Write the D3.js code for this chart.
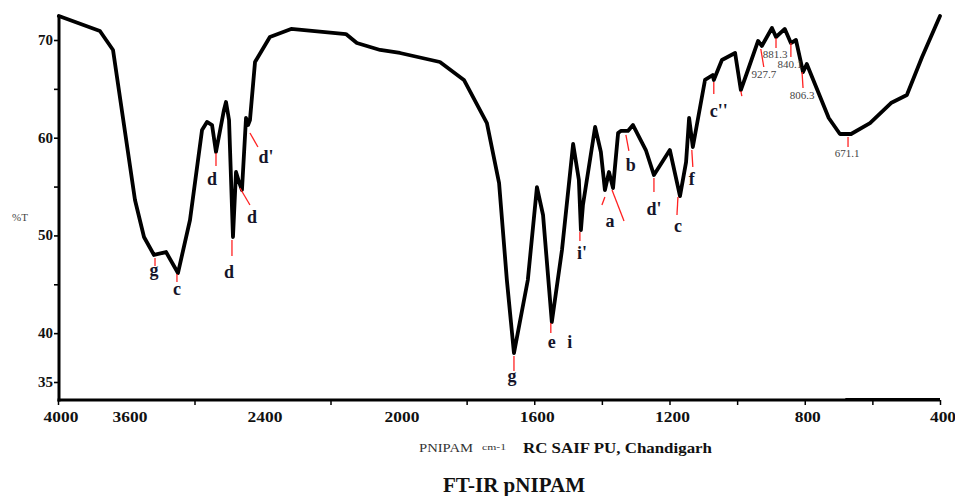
<!DOCTYPE html>
<html>
<head>
<meta charset="utf-8">
<script src="https://cdn.jsdelivr.net/npm/d3@7"></script>
<style>
  html, body { margin: 0; padding: 0; background: #fff; }
  svg { display: block; }
  text { font-family: "Liberation Serif", "DejaVu Serif", serif; }
</style>
</head>
<body>
<svg id="chart" width="955" height="496"></svg>
<script>
// ---- data ----
const wavenumber = [
  3995, 3757, 3681, 3529, 3449, 3360, 3253, 3147, 3040, 2933,
  2889, 2844, 2809, 2738, 2720, 2693, 2658, 2631, 2604, 2578,
  2542, 2524, 2507, 2462, 2377, 2315, 2155, 2123, 2055, 1997,
  1879, 1808, 1740, 1704, 1681, 1660, 1619, 1592, 1574, 1548,
  1518, 1485, 1468, 1462, 1456, 1420, 1403, 1391, 1379, 1367,
  1352, 1344, 1323, 1308, 1270, 1246, 1199, 1169, 1151, 1142,
  1131, 1095, 1072, 1069, 1045, 1006, 989, 968, 938, 927,
  897, 885, 859, 841, 826, 805, 794, 729, 696, 663,
  607, 545, 498, 453, 400
];
const transmittance = [
  72.46, 70.92, 68.98, 53.62, 49.84, 48.0, 48.3, 46.15, 51.58, 60.79,
  61.61, 61.3, 58.54, 62.84, 63.65, 61.81, 49.84, 56.49, 55.47, 54.65,
  62.02, 61.3, 61.81, 67.75, 70.31, 71.13, 70.61, 69.69, 68.98, 68.67,
  67.75, 65.91, 61.5, 55.36, 45.44, 37.96, 45.44, 54.95, 52.09, 41.14,
  48.51, 59.36, 55.67, 50.55, 53.11, 61.1, 58.54, 54.65, 56.49, 54.85,
  60.48, 60.69, 60.69, 61.3, 58.74, 56.18, 58.74, 54.03, 57.51, 62.02,
  59.05, 65.91, 66.42, 65.91, 67.95, 68.67, 64.88, 66.93, 69.9, 69.39,
  71.23, 70.31, 71.13, 69.69, 70.0, 66.72, 67.54, 62.02, 60.38, 60.38,
  61.5, 63.55, 64.37, 68.26, 72.46
];

// axis tick labels
const xTickLabels = [4000, 3600, 2400, 2000, 1600, 1200, 800, 400];
const xTickMarks = [4000, 3000, 2200, 1800, 1600, 1400, 1200, 1000, 800, 600, 400];
const yTickLabels = [70, 60, 50, 40, 35];
const yTickMarks = [35, 40, 45, 50, 55, 60, 65, 70];

// peak annotations: label, wavenumber, %T at the marker start
const annoText = ["g", "c", "d", "d", "d", "d'", "g", "e", "i", "i'", "a", "", "b", "d'", "c", "f", "c''", "",
  "927.7", "881.3", "840.1", "806.3", "671.1"];
const annoWn = [3351, 3156, 2809, 2667, 2596, 2507, 1660, 1551, 1551, 1465, 1391, 1370, 1329, 1246, 1175, 1134, 1069, 989,
  930, 885, 841, 808, 672];
const annoT = [47.69, 46.05, 58.43, 49.53, 54.85, 60.48, 37.66, 41.03, 41.03, 50.35, 53.93, 54.65, 60.28, 55.88, 53.93, 58.74, 65.70, 64.78,
  69.08, 70.2, 69.69, 66.72, 60.07];

// ---- layout (pixel offsets / styling only) ----
// red marker line end offset [dx, dy] (null = no line)
const annoLine = [[0,8],[0,8],[0,13],[0,16],[10,17],[8,14],[0,15],[0,10],null,[0,9],[-3,8],[12,31],[3,16],[0,14],[-1,18],[1,17],[0,12],[1,5],
  [3,18],[0,10],[0,14],[1,16],[0,10]];
// label baseline offset [dx, dy]
const annoLabel = [[-1,18],[0,21],[-4,32],[-3,38],[12,35],[16,30],[-2,26],[1,25],[19,25],[2,27],[5,30],[0,0],[5,36],[0,37],[0,35],[0,35],[5,35],[0,0],
  [3,29],[-1,20],[-1,25],[0,27],[-1,20]];

const svg = d3.select("#chart");
svg.append("rect").attr("width", 955).attr("height", 496).attr("fill", "#fff");

const x = d3.scaleLinear().domain([4000, 3600, 2400, 2000, 400]).range([58, 127, 262, 399, 940]);
const y = d3.scaleLinear().domain([35, 70]).range([382, 40]);

// tick marks via d3 axes
const xAxis = d3.axisBottom(x).tickValues(xTickMarks).tickSize(5).tickFormat("");
const gx = svg.append("g").attr("transform", "translate(0,400)").call(xAxis);
gx.select(".domain").remove();
gx.selectAll(".tick line").attr("stroke", "#000").attr("stroke-width", 1.5);

const yAxis = d3.axisLeft(y).tickValues(yTickMarks).tickSize(5).tickFormat("");
const gy = svg.append("g").attr("transform", "translate(59,0)").call(yAxis);
gy.select(".domain").remove();
gy.selectAll(".tick line").attr("stroke", "#000").attr("stroke-width", 1.6);

// axis lines
svg.append("line").attr("x1", 59).attr("x2", 59).attr("y1", 15).attr("y2", 401.5)
  .attr("stroke", "#000").attr("stroke-width", 3);
svg.append("line").attr("x1", 57.5).attr("x2", x(400)).attr("y1", 400).attr("y2", 400)
  .attr("stroke", "#000").attr("stroke-width", 3);
svg.append("line").attr("x1", x(680)).attr("x2", x(400)).attr("y1", 398.8).attr("y2", 398.8)
  .attr("stroke", "#000").attr("stroke-width", 1.5);

// x tick labels
svg.append("g").selectAll("text").data(xTickLabels).join("text")
  .attr("x", d => x(d) + 3)
  .attr("y", 422)
  .attr("text-anchor", "middle")
  .attr("font-size", 14).attr("font-weight", "bold").attr("fill", "#111")
  .attr("textLength", d => String(d).length * 8.7)
  .attr("lengthAdjust", "spacingAndGlyphs")
  .text(d => d);

// y tick labels
svg.append("g").selectAll("text").data(yTickLabels).join("text")
  .attr("x", 53)
  .attr("y", d => y(d) + 5)
  .attr("text-anchor", "end")
  .attr("font-size", 15).attr("font-weight", "bold").attr("fill", "#111")
  .text(d => d);

svg.append("text").attr("x", 20).attr("y", 221).attr("text-anchor", "middle")
  .attr("font-size", 11).attr("fill", "#444").text("%T");

// spectrum line
const pts = wavenumber.map((w, i) => [w, transmittance[i]]);
const line = d3.line().x(d => x(d[0])).y(d => y(d[1])).curve(d3.curveLinear);
svg.append("path").datum(pts).attr("d", line)
  .attr("fill", "none").attr("stroke", "#000").attr("stroke-width", 3.8)
  .attr("stroke-linejoin", "round").attr("stroke-linecap", "round");

// annotations
const ga = svg.append("g");
annoText.forEach((t, i) => {
  const ax = x(annoWn[i]), ay = y(annoT[i]);
  const ln = annoLine[i];
  if (ln) {
    ga.append("line").attr("x1", ax).attr("y1", ay).attr("x2", ax + ln[0]).attr("y2", ay + ln[1])
      .attr("stroke", "#f22").attr("stroke-width", 1.3);
  }
  if (t) {
    const isNum = /\d/.test(t);
    ga.append("text")
      .attr("x", ax + annoLabel[i][0]).attr("y", ay + annoLabel[i][1])
      .attr("text-anchor", "middle")
      .attr("font-size", isNum ? 11 : 18)
      .attr("font-weight", isNum ? "normal" : "bold")
      .attr("fill", isNum ? "#444" : "#15152a")
      .text(t);
  }
});

// footer texts
svg.append("text").attr("x", 419).attr("y", 452).attr("font-size", 13).attr("fill", "#333")
  .attr("textLength", 54).attr("lengthAdjust", "spacingAndGlyphs").text("PNIPAM");
svg.append("text").attr("x", 482).attr("y", 450).attr("font-size", 9).attr("fill", "#333")
  .attr("textLength", 24).attr("lengthAdjust", "spacingAndGlyphs").text("cm-1");
svg.append("text").attr("x", 523).attr("y", 453).attr("font-size", 15).attr("font-weight", "bold").attr("fill", "#111")
  .attr("textLength", 189).attr("lengthAdjust", "spacingAndGlyphs").text("RC SAIF PU, Chandigarh");
svg.append("text").attr("x", 443).attr("y", 492).attr("font-size", 20).attr("font-weight", "bold").attr("fill", "#111")
  .attr("textLength", 142).attr("lengthAdjust", "spacingAndGlyphs").text("FT-IR pNIPAM");
</script>
</body>
</html>
